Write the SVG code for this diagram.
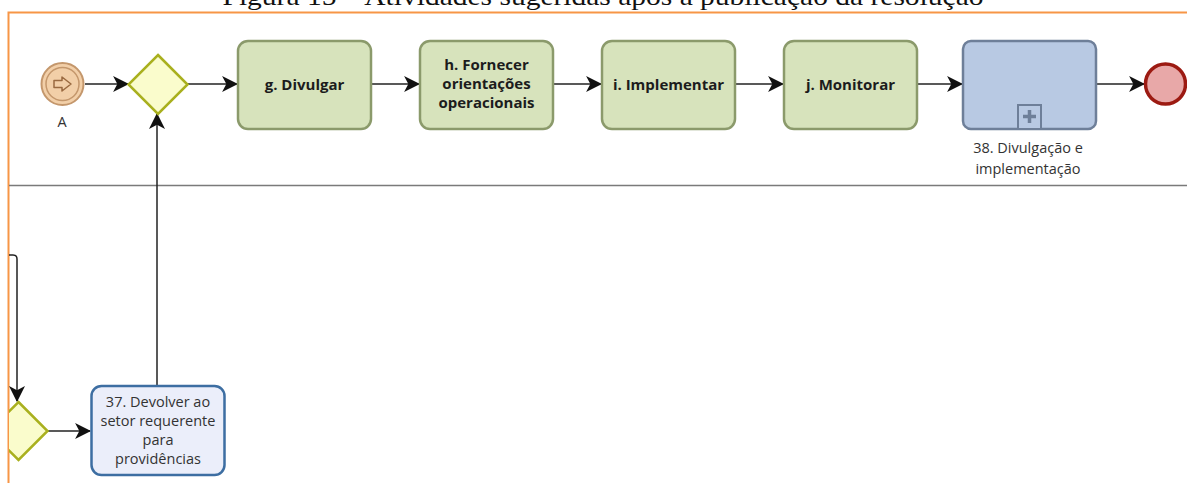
<svg xmlns="http://www.w3.org/2000/svg" width="1187" height="483" viewBox="0 0 1187 483">
<defs>
<style>
.title{font-family:"Liberation Serif","Times New Roman",serif;font-size:26px;fill:#111}
.task{fill:#d7e3bc;stroke:#8b9a6b;stroke-width:2.5}
.tt{font-family:"Open Sans","Noto Sans",sans-serif;font-size:15px;font-weight:bold;fill:#1c1c1c;text-anchor:middle}
.lbl{font-family:"Open Sans","Noto Sans",sans-serif;font-size:14.5px;fill:#333;text-anchor:middle}
.conn{fill:none;stroke:#222;stroke-width:1.5}
.gw{fill:#fafccc;stroke:#a9b01e;stroke-width:2.5}
</style>
<marker id="arr" markerUnits="userSpaceOnUse" markerWidth="16" markerHeight="16" viewBox="0 0 15 15" refX="14" refY="7.5" orient="auto">
<path d="M0,0 L15,7.5 L0,15 L4,7.5 Z" fill="#111"/>
</marker>
<clipPath id="lane"><rect x="9" y="13" width="1178" height="470"/></clipPath>
</defs>
<rect width="1187" height="483" fill="#fff"/>
<text class="title" x="603" y="5" text-anchor="middle" textLength="761" lengthAdjust="spacingAndGlyphs">Figura 15 – Atividades sugeridas após a publicação da resolução</text>
<g id="pool">
<path d="M1187,12.5 L8.5,12.5 L8.5,483" fill="none" stroke="#f79646" stroke-width="2"/>
<line x1="9" y1="185.5" x2="1187" y2="185.5" stroke="#7a7a7a" stroke-width="1.5"/>
</g>
<g id="connectors">
<path class="conn" d="M85,84 L128,84" marker-end="url(#arr)"/>
<path class="conn" d="M188,84 L237,84" marker-end="url(#arr)"/>
<path class="conn" d="M372,84 L419,84" marker-end="url(#arr)"/>
<path class="conn" d="M554,84 L601,84" marker-end="url(#arr)"/>
<path class="conn" d="M736,84 L783,84" marker-end="url(#arr)"/>
<path class="conn" d="M918,84 L962,84" marker-end="url(#arr)"/>
<path class="conn" d="M1097,84 L1144,84" marker-end="url(#arr)"/>
<path class="conn" d="M157,386 L157,114" marker-end="url(#arr)"/>
<path class="conn" d="M9,255 L13,255 Q17,255 17,259 L17,401" marker-end="url(#arr)"/>
<path class="conn" d="M48,431 L90,431" marker-end="url(#arr)"/>
</g>
<g id="start">
<circle cx="62.5" cy="84" r="21" fill="#f2cfa8" stroke="#c4976c" stroke-width="2"/>
<circle cx="62.5" cy="84" r="16.5" fill="none" stroke="#c4976c" stroke-width="1.5"/>
<path d="M54,80.5 L62,80.5 L62,77 L71,84 L62,91 L62,87.5 L54,87.5 Z" fill="none" stroke="#9a6a40" stroke-width="1.5" stroke-linejoin="round"/>
<text class="lbl" x="62" y="127" fill="#1a2a50">A</text>
</g>
<g id="gateway1">
<path class="gw" d="M158,55 L187.5,84.5 L158,114 L128.5,84.5 Z"/>
</g>
<g id="task-g">
<rect class="task" x="238" y="41" width="133" height="88" rx="10"/>
<text class="tt" x="304.5" y="90">g. Divulgar</text>
</g>
<g id="task-h">
<rect class="task" x="420" y="41" width="133" height="88" rx="10"/>
<text class="tt" x="486.5" y="70">h. Fornecer</text>
<text class="tt" x="486.5" y="89">orientações</text>
<text class="tt" x="486.5" y="108">operacionais</text>
</g>
<g id="task-i">
<rect class="task" x="602" y="41" width="133" height="88" rx="10"/>
<text class="tt" x="668.5" y="90">i. Implementar</text>
</g>
<g id="task-j">
<rect class="task" x="784" y="41" width="133" height="88" rx="10"/>
<text class="tt" x="850.5" y="90">j. Monitorar</text>
</g>
<g id="subprocess-38">
<rect x="963" y="41" width="133" height="88" rx="8" fill="#b8c9e3" stroke="#6e7f99" stroke-width="2.5"/>
<rect x="1018" y="105" width="23" height="24" fill="#b8c9e3" stroke="#6e7f99" stroke-width="2"/>
<path d="M1029.5,110 L1029.5,123 M1023,116.5 L1036,116.5" stroke="#6e7f99" stroke-width="3.5"/>
<text class="lbl" x="1028" y="153">38. Divulgação e</text>
<text class="lbl" x="1028" y="174">implementação</text>
</g>
<g id="end">
<circle cx="1165.5" cy="84" r="20" fill="#e8a8a8" stroke="#9c1a12" stroke-width="3.5"/>
</g>
<g id="gateway2" clip-path="url(#lane)">
<path class="gw" d="M18.5,402 L47.5,431 L18.5,460 L-10.5,431 Z"/>
</g>
<g id="task-37">
<rect x="91.5" y="386" width="133" height="89" rx="10" fill="#ebeefa" stroke="#3d6ea2" stroke-width="2.5"/>
<text class="lbl" x="158" y="407">37. Devolver ao</text>
<text class="lbl" x="158" y="426">setor requerente</text>
<text class="lbl" x="158" y="445">para</text>
<text class="lbl" x="158" y="464">providências</text>
</g>
</svg>
